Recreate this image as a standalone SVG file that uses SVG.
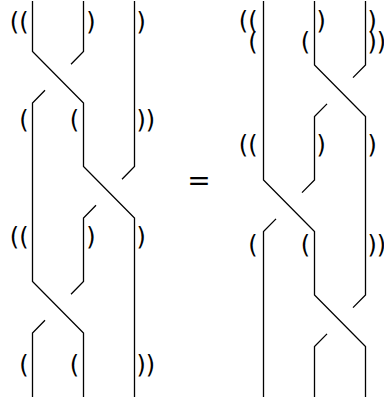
<svg xmlns="http://www.w3.org/2000/svg" width="384" height="402" viewBox="0 0 384 402">
<style>
.s{fill:none;stroke:#000;stroke-width:1.3}
text{font-family:"DejaVu Sans",sans-serif;font-size:24px;fill:#000}
.e{text-anchor:end}
.eq{font-size:28px;text-anchor:middle}
</style>
<rect width="384" height="402" fill="#fff"/>
<g id="connectors">
<g id="left-braid">
<path class="s" d="M32.5 1V51.5L83.5 103V166.5L134.5 218V397"/>
<path class="s" d="M83.5 1V51.5L71 64.3M45 90.2L32.5 103V281.5L83.5 333V397"/>
<path class="s" d="M134.5 1V166.5L122 179.3M96 205.2L83.5 218V281.5L71 294.3M45 320.2L32.5 333V397"/>
</g>
<g id="right-braid">
<path class="s" d="M263.5 1V180L314.5 231.5V295L365.5 346.5V397"/>
<path class="s" d="M314.5 1V65L365.5 116.5V295L353 307.6M327 333.9L314.5 346.5V397"/>
<path class="s" d="M365.5 1V65L353 77.6M327 103.9L314.5 116.5V180L302 192.6M276 218.9L263.5 231.5V397"/>
</g>
</g>
<g id="left-labels">
<text class="e" x="28.6" y="29.5">((</text>
<text x="86.2" y="29.5">)</text>
<text x="136.5" y="29.5">)</text>
<text class="e" x="28.6" y="128">(</text>
<text class="e" x="79.2" y="128">(</text>
<text x="136.5" y="128">))</text>
<text class="e" x="28.6" y="245">((</text>
<text x="86.2" y="245">)</text>
<text x="136.5" y="245">)</text>
<text class="e" x="28.6" y="373">(</text>
<text class="e" x="79.2" y="373">(</text>
<text x="136.5" y="373">))</text>
</g>
<g id="equals">
<text class="eq" x="199" y="190">=</text>
</g>
<g id="right-labels">
<text class="e" x="257.5" y="29">((</text>
<text x="316.5" y="29">)</text>
<text x="367.5" y="29">)</text>
<text class="e" x="257.5" y="50">(</text>
<text class="e" x="310" y="50">(</text>
<text x="367.5" y="50">))</text>
<text class="e" x="257.5" y="153">((</text>
<text x="316.5" y="153">)</text>
<text x="367.5" y="153">)</text>
<text class="e" x="257.5" y="253">(</text>
<text class="e" x="310" y="253">(</text>
<text x="367.5" y="253">))</text>
</g>
</svg>
